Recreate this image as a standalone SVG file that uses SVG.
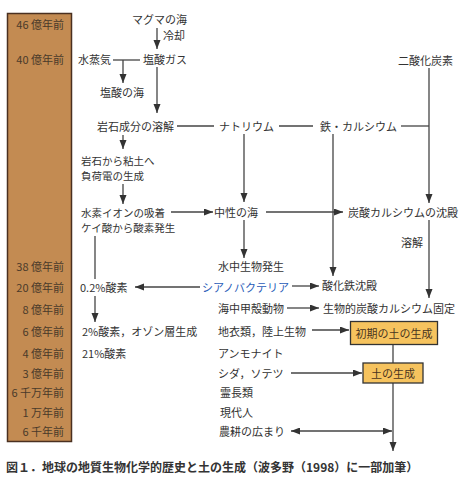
<svg xmlns="http://www.w3.org/2000/svg" width="464" height="483" viewBox="0 0 464 483">
<style>
text{font-family:"Noto Sans CJK JP","Noto Sans",sans-serif;font-size:11px;fill:#333;dominant-baseline:central}
.age{text-anchor:end;fill:#4a3a2a}
.two{font-size:10.5px}
.c{stroke:#444;stroke-width:1.3;fill:none}
.a{marker-end:url(#ah)}
.box{fill:#f6c35e;stroke:#333;stroke-width:1.3}
.bt{text-anchor:middle;fill:#4a3520}
.cap{font-size:12px;font-weight:bold;fill:#333}
</style>
<defs>
<marker id="ah" markerWidth="10" markerHeight="8" refX="9" refY="3.5" orient="auto" markerUnits="userSpaceOnUse">
<path d="M0,0 L9,3.5 L0,7 z" fill="#333"/>
</marker>
<marker id="as" markerWidth="10" markerHeight="8" refX="0" refY="3.5" orient="auto" markerUnits="userSpaceOnUse">
<path d="M9,0 L0,3.5 L9,7 z" fill="#333"/>
</marker>
</defs>
<g id="timeline">
<rect x="7.5" y="13.5" width="64" height="428" fill="#c38b52" stroke="#4a3020" stroke-width="1.5"/>
<text class="age" x="64" y="24">46 億年前</text>
<text class="age" x="64" y="59">40 億年前</text>
<text class="age" x="64" y="266">38 億年前</text>
<text class="age" x="64" y="287">20 億年前</text>
<text class="age" x="64" y="309">8 億年前</text>
<text class="age" x="64" y="331">6 億年前</text>
<text class="age" x="64" y="353">4 億年前</text>
<text class="age" x="64" y="373">3 億年前</text>
<text class="age" x="64" y="392">6 千万年前</text>
<text class="age" x="64" y="412">1 万年前</text>
<text class="age" x="64" y="431">6 千年前</text>
</g>
<g id="connectors">
<line class="c a" x1="157" y1="28" x2="157" y2="49"/>
<line class="c" x1="113" y1="60" x2="140" y2="60"/>
<line class="c a" x1="123" y1="60" x2="123" y2="83"/>
<line class="c a" x1="157" y1="67" x2="157" y2="113"/>
<line class="c" x1="177" y1="126" x2="214" y2="126"/>
<line class="c" x1="279" y1="126" x2="313" y2="126"/>
<line class="c" x1="401" y1="126" x2="429" y2="126"/>
<line class="c a" x1="429" y1="68" x2="429" y2="203"/>
<line class="c a" x1="123" y1="135" x2="123" y2="149"/>
<line class="c a" x1="123" y1="184" x2="123" y2="204"/>
<line class="c a" x1="171" y1="212" x2="213" y2="212"/>
<line class="c a" x1="244" y1="134" x2="244" y2="202"/>
<line class="c a" x1="266" y1="212" x2="343" y2="212"/>
<line class="c a" x1="333" y1="134" x2="333" y2="276"/>
<line class="c a" x1="429" y1="220" x2="429" y2="298"/>
<line class="c a" x1="244" y1="220" x2="244" y2="258"/>
<line class="c" x1="95" y1="236" x2="95" y2="279"/>
<line class="c a" x1="95" y1="296" x2="95" y2="322"/>
<line class="c a" x1="200" y1="287" x2="135" y2="287"/>
<line class="c a" x1="292" y1="286" x2="319" y2="286"/>
<line class="c a" x1="287" y1="308" x2="319" y2="308"/>
<line class="c a" x1="312" y1="330" x2="349" y2="330"/>
<line class="c" x1="393" y1="345" x2="393" y2="363"/>
<line class="c a" x1="393" y1="383" x2="393" y2="451"/>
<line class="c a" x1="291" y1="373" x2="362" y2="373"/>
<line class="c a" x1="291" y1="431" x2="392" y2="431" marker-start="url(#as)"/>
</g>
<g id="n-magma"><text x="132" y="19">マグマの海</text></g>
<g id="l-cool"><text x="163" y="35">冷却</text></g>
<g id="n-steam"><text x="78" y="59">水蒸気</text></g>
<g id="n-hcl-gas"><text x="143" y="59">塩酸ガス</text></g>
<g id="n-hcl-sea"><text x="100" y="92">塩酸の海</text></g>
<g id="n-co2"><text x="398" y="60">二酸化炭素</text></g>
<g id="n-dissolve"><text x="97" y="126">岩石成分の溶解</text></g>
<g id="n-na"><text x="219" y="126">ナトリウム</text></g>
<g id="n-feca"><text x="320" y="126">鉄・カルシウム</text></g>
<g id="n-clay"><text class="two" x="81" y="160.5">岩石から粘土へ</text><text class="two" x="81" y="175.5">負荷電の生成</text></g>
<g id="n-hion"><text class="two" x="81" y="212.5">水素イオンの吸着</text><text class="two" x="81" y="227.5">ケイ酸から酸素発生</text></g>
<g id="n-neutral"><text x="214" y="212">中性の海</text></g>
<g id="n-caco3"><text x="348" y="212">炭酸カルシウムの沈殿</text></g>
<g id="l-yokai"><text x="401" y="242">溶解</text></g>
<g id="n-life"><text x="218" y="266">水中生物発生</text></g>
<g id="n-o2-02"><text x="80" y="287">0.2%酸素</text></g>
<g id="n-cyano"><text x="202" y="287" style="fill:#2a5cb8">シアノバクテリア</text></g>
<g id="n-fe"><text x="322" y="285">酸化鉄沈殿</text></g>
<g id="n-crust"><text x="218" y="308">海中甲殻動物</text></g>
<g id="n-bioca"><text x="323" y="308">生物的炭酸カルシウム固定</text></g>
<g id="n-o2-2"><text x="82" y="331">2%酸素，オゾン層生成</text></g>
<g id="n-lichen"><text x="218" y="331">地衣類，陸上生物</text></g>
<g id="n-soil1"><rect class="box" x="350.5" y="321.5" width="87" height="23"/><text class="bt" x="394" y="333">初期の土の生成</text></g>
<g id="n-o2-21"><text x="82" y="353">21%酸素</text></g>
<g id="n-ammo"><text x="218" y="353">アンモナイト</text></g>
<g id="n-fern"><text x="218" y="373">シダ，ソテツ</text></g>
<g id="n-soil2"><rect class="box" x="363" y="363" width="60" height="20"/><text class="bt" x="393" y="373">土の生成</text></g>
<g id="n-primate"><text x="220" y="392">霊長類</text></g>
<g id="n-human"><text x="220" y="412">現代人</text></g>
<g id="n-agri"><text x="219" y="431">農耕の広まり</text></g>
<g id="caption"><text class="cap" x="6" y="466">図１．地球の地質生物化学的歴史と土の生成（波多野（1998）に一部加筆）</text></g>
</svg>
